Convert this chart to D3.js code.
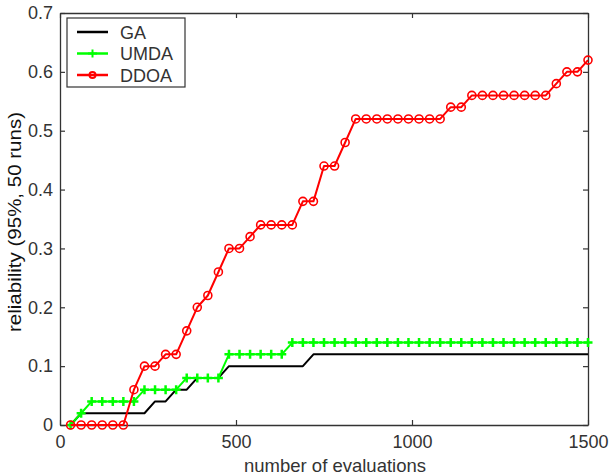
<!DOCTYPE html>
<html>
<head>
<meta charset="utf-8">
<script src="https://cdn.jsdelivr.net/npm/d3@7"></script>
<style>
  body { margin: 0; background: #fff; }
  text { font-family: "Liberation Sans", Arial, sans-serif; }
</style>
</head>
<body>
<div id="chart"></div>
<script>
// evaluations (x) shared by all series
const evals = d3.range(1, 51).map(i => i * 30)

const gaValues = [0, 0.02, 0.02, 0.02, 0.02, 0.02, 0.02, 0.02, 0.04, 0.04,
  0.06, 0.06, 0.08, 0.08, 0.08, 0.10, 0.10, 0.10, 0.10, 0.10,
  0.10, 0.10, 0.10, 0.12, 0.12, 0.12, 0.12, 0.12, 0.12, 0.12,
  0.12, 0.12, 0.12, 0.12, 0.12, 0.12, 0.12, 0.12, 0.12, 0.12,
  0.12, 0.12, 0.12, 0.12, 0.12, 0.12, 0.12, 0.12, 0.12, 0.12]

const umdaValues = [0, 0.02, 0.04, 0.04, 0.04, 0.04, 0.04, 0.06, 0.06, 0.06,
  0.06, 0.08, 0.08, 0.08, 0.08, 0.12, 0.12, 0.12, 0.12, 0.12,
  0.12, 0.14, 0.14, 0.14, 0.14, 0.14, 0.14, 0.14, 0.14, 0.14,
  0.14, 0.14, 0.14, 0.14, 0.14, 0.14, 0.14, 0.14, 0.14, 0.14,
  0.14, 0.14, 0.14, 0.14, 0.14, 0.14, 0.14, 0.14, 0.14, 0.14]

const ddoaValues = [0, 0, 0, 0, 0, 0, 0.06, 0.10, 0.10, 0.12,
  0.12, 0.16, 0.20, 0.22, 0.26, 0.30, 0.30, 0.32, 0.34, 0.34,
  0.34, 0.34, 0.38, 0.38, 0.44, 0.44, 0.48, 0.52, 0.52, 0.52,
  0.52, 0.52, 0.52, 0.52, 0.52, 0.52, 0.54, 0.54, 0.56, 0.56,
  0.56, 0.56, 0.56, 0.56, 0.56, 0.56, 0.58, 0.60, 0.60, 0.62]

const xTicks = [0, 500, 1000, 1500]
const yTicks = [0, 0.1, 0.2, 0.3, 0.4, 0.5, 0.6, 0.7]

const series = [
  { name: 'GA', values: gaValues, color: '#000000', marker: 'none' },
  { name: 'UMDA', values: umdaValues, color: '#00ff00', marker: 'plus' },
  { name: 'DDOA', values: ddoaValues, color: '#ff0000', marker: 'circle' }
]

const width = 610
const height = 475
const margin = { top: 13, right: 22, bottom: 50, left: 60 }
const innerW = width - margin.left - margin.right
const innerH = height - margin.top - margin.bottom

const svg = d3.select('#chart')
  .append('svg')
  .attr('width', width)
  .attr('height', height)

const g = svg.append('g')
  .attr('transform', `translate(${margin.left},${margin.top})`)

const x = d3.scaleLinear().domain([0, 1500]).range([0, innerW])
const y = d3.scaleLinear().domain([0, 0.7]).range([innerH, 0])

// axes, matlab style: ticks inside, on all four sides
const axisColor = '#333'
const fmtY = d => d === 0 ? '0' : d3.format('.1f')(d)

const xAxis = g.append('g')
  .attr('transform', `translate(0,${innerH})`)
  .call(d3.axisBottom(x).tickValues(xTicks).tickFormat(d3.format('d')).tickSizeInner(-5).tickSizeOuter(0).tickPadding(10))
const yAxis = g.append('g')
  .call(d3.axisLeft(y).tickValues(yTicks).tickFormat(fmtY).tickSizeInner(-5).tickSizeOuter(0).tickPadding(7))
const xTop = g.append('g')
  .call(d3.axisTop(x).tickValues(xTicks).tickSizeInner(-5).tickSizeOuter(0).tickFormat(''))
const yRight = g.append('g')
  .attr('transform', `translate(${innerW},0)`)
  .call(d3.axisRight(y).tickValues(yTicks).tickSizeInner(-5).tickSizeOuter(0).tickFormat(''))

;[xAxis, yAxis, xTop, yRight].forEach(a => {
  a.select('.domain').attr('stroke', axisColor).attr('stroke-width', 1.3)
  a.selectAll('.tick line').attr('stroke', axisColor).attr('stroke-width', 1.2)
  a.selectAll('.tick text').attr('fill', '#333').style('font-size', '18px')
})

// lines
const line = d3.line()
  .x((d, i) => x(evals[i]))
  .y(d => y(d))

series.forEach(s => {
  g.append('path')
    .attr('d', line(s.values))
    .attr('fill', 'none')
    .attr('stroke', s.color)
    .attr('stroke-width', 2)
    .attr('stroke-linejoin', 'round')

  if (s.marker === 'circle') {
    g.selectAll(null).data(s.values).enter().append('circle')
      .attr('cx', (d, i) => x(evals[i]))
      .attr('cy', d => y(d))
      .attr('r', 4)
      .attr('fill', 'none')
      .attr('stroke', s.color)
      .attr('stroke-width', 1.6)
  } else if (s.marker === 'plus') {
    g.selectAll(null).data(s.values).enter().append('path')
      .attr('d', (d, i) => {
        const cx = x(evals[i]), cy = y(d)
        return `M${cx - 4.5},${cy}H${cx + 4.5}M${cx},${cy - 4.5}V${cy + 4.5}`
      })
      .attr('stroke', s.color)
      .attr('stroke-width', 2.5)
  }
})

// axis titles
svg.append('text')
  .attr('x', 335)
  .attr('y', 472)
  .attr('text-anchor', 'middle')
  .attr('fill', '#333')
  .style('font-size', '18.5px')
  .text('number of evaluations')

svg.append('text')
  .attr('transform', `translate(21,222) rotate(-90)`)
  .attr('text-anchor', 'middle')
  .attr('fill', '#111')
  .attr('textLength', 220)
  .attr('lengthAdjust', 'spacingAndGlyphs')
  .style('font-size', '18px')
  .text('reliability (95%, 50 runs)')

// legend
const legend = svg.append('g')
legend.append('rect')
  .attr('x', 67).attr('y', 18)
  .attr('width', 118).attr('height', 69)
  .attr('fill', '#fff')
  .attr('stroke', axisColor)
  .attr('stroke-width', 1.2)

series.forEach((s, i) => {
  const ly = 32 + i * 21.5
  legend.append('line')
    .attr('x1', 77).attr('x2', 108)
    .attr('y1', ly).attr('y2', ly)
    .attr('stroke', s.color).attr('stroke-width', 2.5)
  if (s.marker === 'plus') {
    legend.append('path')
      .attr('d', `M88,${ly}H97M92.5,${ly - 4}V${ly + 4}`)
      .attr('stroke', s.color).attr('stroke-width', 2)
  } else if (s.marker === 'circle') {
    legend.append('circle')
      .attr('cx', 92.5).attr('cy', ly).attr('r', 3)
      .attr('fill', 'none').attr('stroke', s.color).attr('stroke-width', 2)
  }
  legend.append('text')
    .attr('x', 120).attr('y', ly + 6.5)
    .attr('fill', '#333')
    .style('font-size', '18px')
    .text(s.name)
})
</script>
</body>
</html>
